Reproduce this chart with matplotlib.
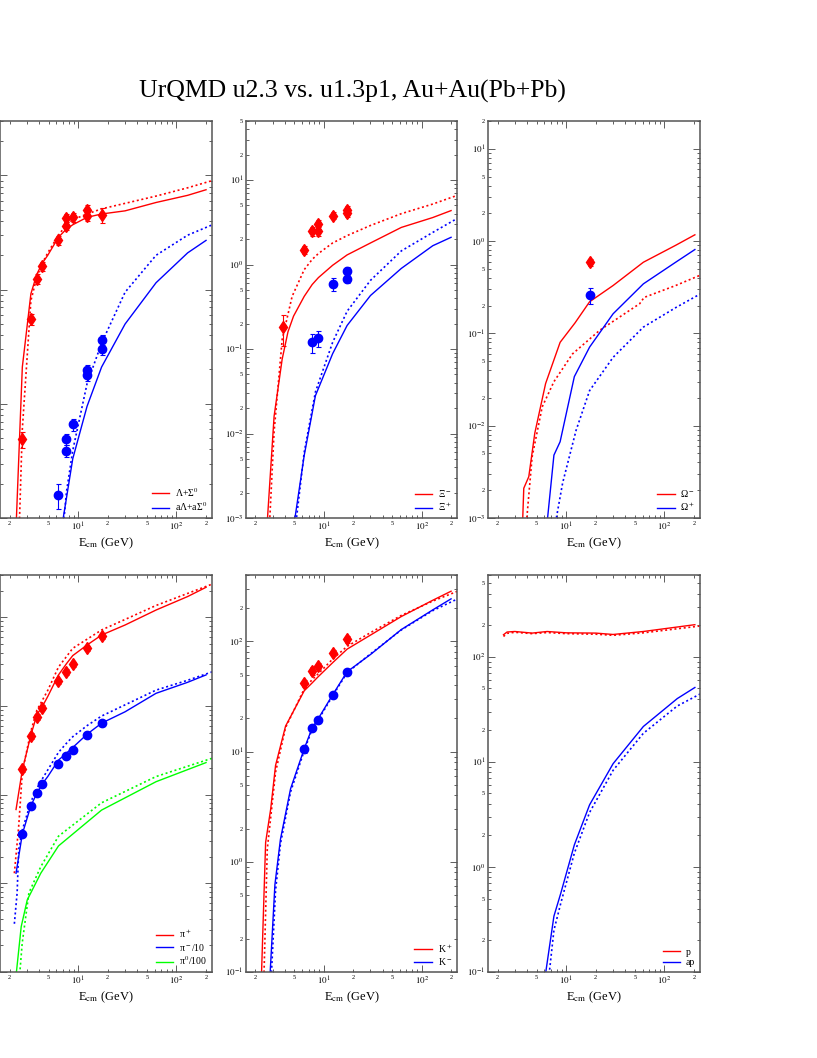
import numpy as np
import matplotlib.pyplot as plt
from matplotlib import ticker

plt.rcParams['font.family'] = ['Liberation Serif', 'DejaVu Serif']
plt.rcParams['mathtext.fontset'] = 'stix'

# ---------------- datos (E_cm en GeV, multiplicidades 4pi) ----------------
# Lambda + Sigma0 / anti
lam_u23_e = [2.34, 2.7, 3.3, 3.8, 4.3, 4.9, 6.3, 7.6, 8.8, 12.3, 17.3, 30, 62, 130, 200]
lam_u23 = [0.09, 2.1, 9.2, 13.7, 17, 20, 28.8, 34, 37, 43, 46, 49, 58, 67, 75]
lam_u13_e = [2.52, 2.7, 3.3, 3.8, 4.3, 4.9, 6.3, 7.6, 8.8, 12.3, 17.3, 30, 62, 130, 250]
lam_u13 = [0.09, 0.6, 8, 13, 17, 21, 30, 37, 41, 46, 51, 57, 66, 78, 92]
alam_u23_e = [6.9, 7.6, 8.8, 12.3, 17.3, 30, 62, 130, 200]
alam_u23 = [0.09, 0.15, 0.33, 0.95, 2.1, 5.0, 11.5, 21, 27]
alam_u13_e = [7.1, 7.6, 8.8, 12.3, 17.3, 30, 62, 130, 250]
alam_u13 = [0.09, 0.17, 0.39, 1.5, 3.4, 9.5, 20, 30, 38]
lam_dat_e = [2.7, 3.3, 3.8, 4.3, 6.3, 7.6, 7.6, 8.8, 12.3, 12.3, 17.3]
lam_dat = [0.49, 5.5, 12.4, 16, 27.3, 36, 42.5, 43, 50, 44, 45]
lam_err = [0.08, 0.6, 1.2, 1.5, 2.5, 3, 3.5, 3.5, 5, 4, 7]
alam_dat_e = [6.3, 7.6, 7.6, 8.8, 12.3, 12.3, 17.3, 17.3]
alam_dat = [0.16, 0.49, 0.39, 0.66, 1.98, 1.8, 3.6, 3.0]
alam_err = [0.04, 0.05, 0.05, 0.08, 0.2, 0.2, 0.4, 0.3]

# Xi- / Xi+
xim_u23_e = [2.64, 3.1, 3.75, 4.3, 4.9, 6.3, 7.6, 8.8, 12.3, 17.3, 30, 62, 130, 200]
xim_u23 = [0.0009, 0.016, 0.076, 0.16, 0.245, 0.42, 0.58, 0.7, 0.98, 1.3, 1.8, 2.75, 3.6, 4.35]
xim_u13_e = [2.79, 3.1, 3.75, 4.74, 6.3, 7.6, 8.8, 12.3, 17.3, 30, 62, 130, 250]
xim_u13 = [0.0009, 0.0105, 0.13, 0.42, 0.87, 1.15, 1.35, 1.8, 2.2, 2.9, 4.0, 5.2, 6.8]
xip_u23_e = [5.0, 6.3, 8.2, 12.3, 17.3, 30, 62, 130, 200]
xip_u23 = [0.0009, 0.0055, 0.028, 0.088, 0.19, 0.43, 0.9, 1.67, 2.1]
xip_u13_e = [5.2, 6.3, 8.2, 12.3, 17.3, 30, 62, 130, 250]
xip_u13 = [0.0009, 0.006, 0.031, 0.12, 0.28, 0.65, 1.45, 2.4, 3.7]
xim_dat_e = [3.8, 6.3, 7.6, 8.8, 8.8, 12.3, 17.3, 17.3]
xim_dat = [0.18, 1.5, 2.47, 3.0, 2.47, 3.8, 4.4, 4.05]
xim_err = [0.07, 0.15, 0.3, 0.4, 0.3, 0.35, 0.5, 0.4]
xip_dat_e = [7.6, 8.8, 12.3, 17.3, 17.3]
xip_dat = [0.12, 0.135, 0.59, 0.85, 0.68]
xip_err = [0.03, 0.03, 0.1, 0.08, 0.07]

# Omega- / Omega+
om_u23_e = [3.6, 3.7, 4.16, 4.79, 6.17, 8.67, 12.3, 17.3, 30, 61, 130, 204]
om_u23 = [0.0009, 0.0021, 0.0028, 0.0083, 0.0286, 0.08, 0.13, 0.22, 0.33, 0.59, 0.9, 1.17]
om_u13_e = [3.94, 4.5, 5.7, 7.5, 11.6, 21.9, 56, 62, 130, 235]
om_u13 = [0.0009, 0.0046, 0.016, 0.03, 0.06, 0.108, 0.21, 0.245, 0.33, 0.43]
aom_u23_e = [6.4, 7.5, 8.67, 12.1, 17.3, 30, 61, 130, 204]
aom_u23 = [0.0009, 0.0048, 0.0067, 0.034, 0.071, 0.163, 0.344, 0.59, 0.81]
aom_u13_e = [7.8, 9.2, 12.6, 17.3, 30, 61, 130, 235]
aom_u13 = [0.0009, 0.0024, 0.0089, 0.024, 0.055, 0.117, 0.19, 0.27]
om_dat_e = [17.3]
om_dat = [0.59]
om_err = [0.05]
aom_dat_e = [17.3]
aom_dat = [0.26]
aom_err = [0.05]

# piones
pi_u23_e = [2.33, 2.7, 3.3, 3.8, 4.3, 4.9, 6.3, 7.6, 8.8, 12.3, 17.3, 30, 62, 130, 200]
pip_u23 = [6.8, 19, 47, 80, 98, 128, 224, 300, 370, 487, 631, 819, 1208, 1715, 2180]
pim_u23 = [1.3, 3.6, 7.5, 10.4, 13.2, 16, 24.5, 29.4, 34, 48, 64, 86, 139, 185, 224]
pip_u13_e = [2.24, 2.48, 2.7, 3.3, 3.8, 4.3, 4.9, 6.3, 7.6, 8.8, 12.3, 17.3, 30, 62, 130, 250]
pip_u13 = [1.3, 4.4, 18, 52, 90, 115, 150, 275, 361, 447, 566, 720, 946, 1360, 1860, 2450]
pim_u13_e = [2.24, 2.39, 2.48, 2.7, 3.3, 3.8, 4.3, 4.9, 6.3, 7.6, 8.8, 12.3, 17.3, 30, 62, 130, 250]
pim_u13 = [0.35, 0.78, 2.4, 4.0, 8.3, 11.8, 15, 19, 30, 38, 45, 60, 77, 103, 151, 195, 250]
pi0_u23_e = [2.34, 2.63, 3.03, 4.16, 6.3, 17.3, 62, 200]
pi0_u23 = [0.095, 0.325, 0.65, 1.3, 2.64, 6.7, 14, 23]
pi0_u13_e = [2.54, 2.69, 3.15, 4.16, 6.3, 17.3, 62, 250]
pi0_u13 = [0.095, 0.21, 0.78, 1.54, 3.4, 8.1, 16, 26.5]
pi_dat_e = [2.7, 3.3, 3.8, 4.3, 6.3, 7.6, 8.8, 12.3, 17.3]
pip_dat = [19.3, 46, 76, 96, 190, 240, 295, 447, 616]
pip_err = [1.5, 3.5, 6, 7, 14, 18, 22, 33, 45]
pim_dat = [3.6, 7.5, 10.4, 13.2, 22, 27.3, 32, 47, 64]
pim_err = [0.25, 0.5, 0.7, 0.9, 1.5, 1.9, 2.2, 3.3, 4.5]

# kaones
kp_u23_e = [2.3, 2.54, 2.86, 3.21, 4.06, 6.3, 7.6, 8.8, 12.3, 17.3, 30, 62, 130, 200]
kp_u23 = [0.09, 1.5, 3.0, 7.5, 17, 35.6, 42, 48, 64, 85, 114, 168, 236, 285]
kp_u13_e = [2.44, 2.64, 3.21, 4.06, 6.3, 7.6, 8.8, 12.3, 17.3, 30, 62, 130, 250]
kp_u13 = [0.09, 1.3, 6.5, 16.5, 37, 45, 51, 69, 90, 120, 172, 232, 292]
km_u23_e = [2.81, 3.16, 3.6, 4.57, 6.3, 7.6, 8.8, 12.3, 17.3, 30, 62, 130, 200]
km_u23 = [0.09, 0.62, 1.6, 4.6, 10.6, 16.4, 20, 32.7, 53, 76, 128, 193, 243]
km_u13_e = [2.9, 3.21, 3.6, 4.57, 6.3, 7.6, 8.8, 12.3, 17.3, 30, 62, 130, 250]
km_u13 = [0.09, 0.55, 1.45, 4.3, 10.2, 16, 19.5, 32, 52, 77, 127, 190, 250]
k_dat_e = [6.3, 7.6, 8.8, 12.3, 17.3]
kp_dat = [41.5, 54, 60, 78, 104]
kp_err = [3, 4, 4, 5, 7]
km_dat = [10.6, 16.4, 19.5, 32.7, 53]
km_err = [0.8, 1.1, 1.3, 2, 3]

# protones / antiprotones
p_u23_e = [2.3, 2.5, 3.0, 4.5, 6.4, 10, 20, 30, 61, 204]
p_u23 = [162, 172, 174, 168, 174, 169, 168, 163, 174, 202]
p_u13_e = [2.3, 2.5, 3.0, 4.5, 6.4, 10, 20, 30, 61, 250]
p_u13 = [156, 167, 171, 166, 170, 166, 164, 160, 169, 198]
ap_u23_e = [6.15, 7.5, 8.8, 12.1, 17.3, 30, 61, 135, 204]
ap_u23 = [0.095, 0.34, 0.56, 1.62, 3.9, 9.6, 21.7, 40, 51]
ap_u13_e = [6.7, 7.5, 8.8, 12.1, 17.3, 30, 61, 135, 250]
ap_u13 = [0.095, 0.25, 0.45, 1.35, 3.3, 8.3, 18.7, 34, 46]

titulo = 'UrQMD u2.3 vs. u1.3p1, Au+Au(Pb+Pb)'
xlabel = r'E$_{\mathrm{cm}}$ (GeV)'

ROJO, AZUL, VERDE = '#ff0000', '#0000ff', '#00ff00'


def fmt_major(v, pos):
    return r'$10^{%d}$' % int(round(np.log10(v)))


def fmt_minor(v, pos):
    m = int(round(v / 10 ** np.floor(np.log10(v) + 1e-9)))
    return str(m) if m in (2, 5) else ''


fig = plt.figure(figsize=(8.17, 10.58), dpi=100)
W, H = 817.0, 1058.0


def panel(left_px, right_px, top_px, bot_px, ylim, etiquetas_y=True):
    ax = fig.add_axes([left_px / W, 1 - bot_px / H,
                       (right_px - left_px) / W, (bot_px - top_px) / H])
    ax.set_xscale('log')
    ax.set_yscale('log')
    ax.set_xlim(1.6, 230)
    ax.set_ylim(*ylim)
    for axis in (ax.xaxis, ax.yaxis):
        axis.set_major_locator(ticker.LogLocator(base=10, numticks=20))
        axis.set_minor_locator(ticker.LogLocator(base=10, subs=np.arange(2, 10), numticks=20))
        axis.set_major_formatter(ticker.FuncFormatter(fmt_major))
        axis.set_minor_formatter(ticker.FuncFormatter(fmt_minor))
    ax.tick_params(which='both', direction='in', top=True, right=True,
                   color='#444444', width=0.6, pad=2)
    ax.tick_params(which='major', length=5, labelsize=6.5)
    ax.tick_params(which='minor', length=2.5, labelsize=4.5)
    # la columna izquierda queda recortada en el borde de la figura
    if not etiquetas_y:
        ax.tick_params(which='both', labelleft=False)
    for s in ax.spines.values():
        s.set_color('#555555')
        s.set_linewidth(1.1)
    ax.set_xlabel(xlabel, fontsize=9, labelpad=2)
    return ax


def curvas(ax, e23, y23, e13, y13, color, label):
    ax.plot(e23, y23, color=color, lw=1.0, label=label)
    ax.plot(e13, y13, color=color, lw=1.2, ls=(0, (1.2, 1.6)))


def datos(ax, e, y, err, color, marker):
    ax.errorbar(e, y, yerr=err, fmt=marker, color=color, ms=6,
                elinewidth=0.8, capsize=1.8, capthick=0.8)


def leyenda(ax):
    ax.legend(loc='lower right', frameon=False, fontsize=7, handlelength=1.8,
              handletextpad=0.6, labelspacing=0.15, borderaxespad=0.3, borderpad=0.2)


cols = [(0, 212), (246, 457), (488, 700)]
rows = [(121, 518), (575, 972)]

# 1. Lambda
ax = panel(*cols[0], *rows[0], (0.1, 300), etiquetas_y=False)
curvas(ax, lam_u23_e, lam_u23, lam_u13_e, lam_u13, ROJO, r'Λ+Σ$^0$')
curvas(ax, alam_u23_e, alam_u23, alam_u13_e, alam_u13, AZUL, r'aΛ+aΣ$^0$')
datos(ax, lam_dat_e, lam_dat, lam_err, ROJO, 'd')
datos(ax, alam_dat_e, alam_dat, alam_err, AZUL, 'o')
leyenda(ax)

# 2. Xi
ax = panel(*cols[1], *rows[0], (1e-3, 50))
curvas(ax, xim_u23_e, xim_u23, xim_u13_e, xim_u13, ROJO, r'Ξ$^-$')
curvas(ax, xip_u23_e, xip_u23, xip_u13_e, xip_u13, AZUL, r'Ξ$^+$')
datos(ax, xim_dat_e, xim_dat, xim_err, ROJO, 'd')
datos(ax, xip_dat_e, xip_dat, xip_err, AZUL, 'o')
leyenda(ax)

# 3. Omega
ax = panel(*cols[2], *rows[0], (1e-3, 20))
curvas(ax, om_u23_e, om_u23, om_u13_e, om_u13, ROJO, r'Ω$^-$')
curvas(ax, aom_u23_e, aom_u23, aom_u13_e, aom_u13, AZUL, r'Ω$^+$')
datos(ax, om_dat_e, om_dat, om_err, ROJO, 'd')
datos(ax, aom_dat_e, aom_dat, aom_err, AZUL, 'o')
leyenda(ax)

# 4. piones
ax = panel(*cols[0], *rows[1], (0.1, 3000), etiquetas_y=False)
curvas(ax, pi_u23_e, pip_u23, pip_u13_e, pip_u13, ROJO, r'π$^+$')
curvas(ax, pi_u23_e, pim_u23, pim_u13_e, pim_u13, AZUL, r'π$^-$/10')
curvas(ax, pi0_u23_e, pi0_u23, pi0_u13_e, pi0_u13, VERDE, r'π$^0$/100')
datos(ax, pi_dat_e, pip_dat, pip_err, ROJO, 'd')
datos(ax, pi_dat_e, pim_dat, pim_err, AZUL, 'o')
leyenda(ax)

# 5. kaones
ax = panel(*cols[1], *rows[1], (0.1, 400))
curvas(ax, kp_u23_e, kp_u23, kp_u13_e, kp_u13, ROJO, r'K$^+$')
curvas(ax, km_u23_e, km_u23, km_u13_e, km_u13, AZUL, r'K$^-$')
datos(ax, k_dat_e, kp_dat, kp_err, ROJO, 'd')
datos(ax, k_dat_e, km_dat, km_err, AZUL, 'o')
leyenda(ax)

# 6. protones
ax = panel(*cols[2], *rows[1], (0.1, 600))
curvas(ax, p_u23_e, p_u23, p_u13_e, p_u13, ROJO, 'p')
curvas(ax, ap_u23_e, ap_u23, ap_u13_e, ap_u13, AZUL, 'ap')
leyenda(ax)

fig.text(352.5 / W, 1 - 98 / H, titulo, ha='center', va='baseline', fontsize=18.5)

fig.savefig('out.png', dpi=100)
